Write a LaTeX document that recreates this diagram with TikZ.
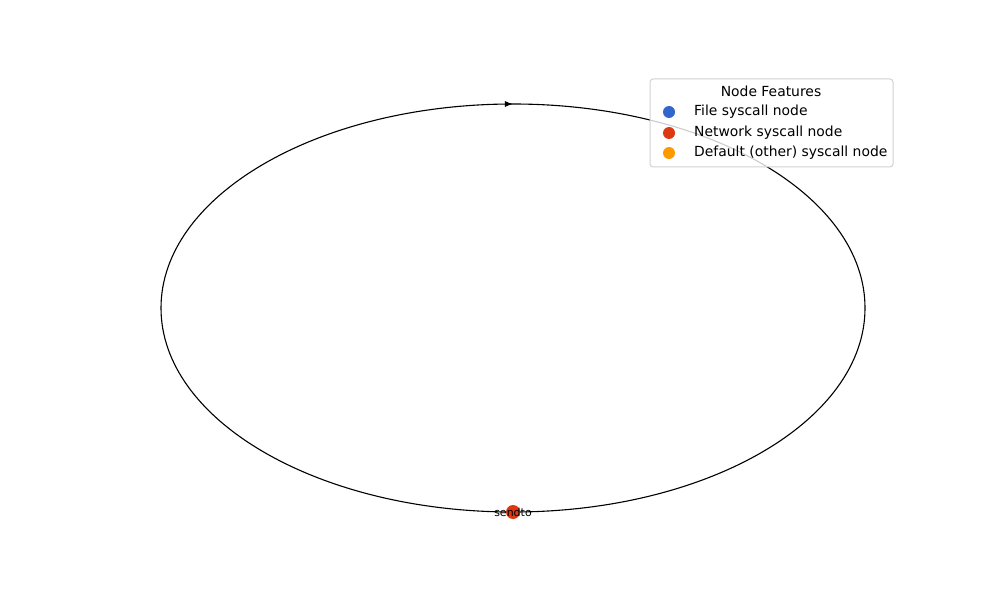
\documentclass[tikz,border=0pt]{standalone}
\usepackage{fontspec}
\setmainfont{DejaVu Sans}
\usetikzlibrary{arrows.meta,decorations.markings}

\definecolor{filecol}{HTML}{3366CC}
\definecolor{netcol}{HTML}{DC3912}
\definecolor{defcol}{HTML}{FF9900}

\tikzset{
  syscall/.style={circle,inner sep=0pt,minimum size=14pt},
  legmark/.style={circle,inner sep=0pt,minimum size=12pt},
  legtext/.style={anchor=west,inner sep=0pt,font=\fontsize{13.9}{16}\selectfont},
  loopedge/.style={line width=1.1pt,
    postaction={decorate,decoration={markings,
      mark=at position 0.5 with {\arrow{Latex[length=8pt,width=6pt]}}}}}
}

\begin{document}
\begin{tikzpicture}[x=1pt,y=1pt]

	% Marco
	\useasboundingbox (0,0) rectangle (1000,600);

	% Posicion del nodo
	\coordinate (sendtopos) at (513,88);

	% Bucle
	\draw[loopedge] (sendtopos) arc[start angle=270,end angle=-90,x radius=352,y radius=204];

	% Nodo
	\node[syscall,fill=netcol] (sendto) at (sendtopos) {};
	\node[font=\fontsize{11}{12}\selectfont,inner sep=0pt] (sendtolbl) at (sendto.center) {sendto};

	% Leyenda
	\draw[gray!35,fill=white,fill opacity=0.8,rounded corners=3pt,line width=1pt] (650,433) rectangle (893,521);
	\node[font=\fontsize{13.9}{16}\selectfont,inner sep=0pt] (legtitle) at (771,509) {Node Features};

	\node[legmark,fill=filecol] (mfile) at (669,488) {};
	\node[legtext] (tfile) at (694,488) {File syscall node};

	\node[legmark,fill=netcol] (mnet) at (669,467) {};
	\node[legtext] (tnet) at (694,467) {Network syscall node};

	\node[legmark,fill=defcol] (mdef) at (669,447) {};
	\node[legtext] (tdef) at (694,447) {Default (other) syscall node};

\end{tikzpicture}
\end{document}
